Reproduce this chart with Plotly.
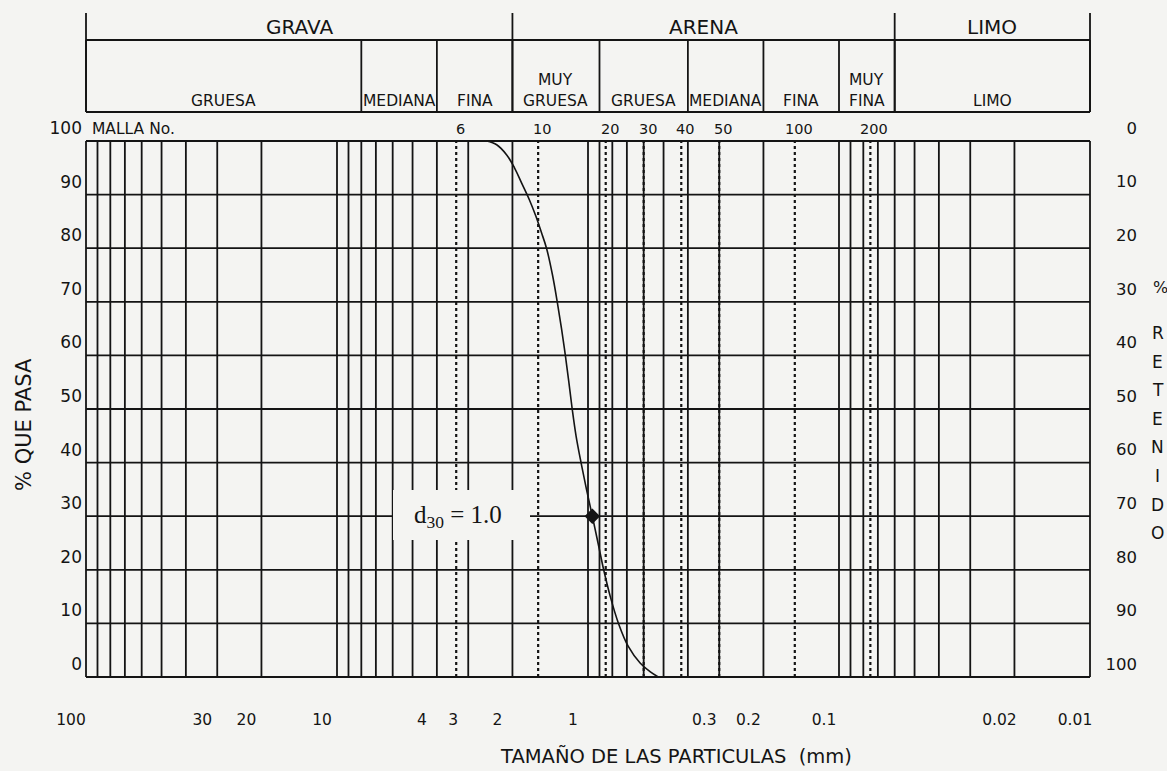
import math
import plotly.graph_objects as go

# ---------------- data ----------------
GRAIN_MM = [2.533, 2.311, 2.108, 1.963, 1.832, 1.711, 1.614, 1.535, 1.463, 1.385, 1.326,
            1.275, 1.231, 1.192, 1.156, 1.116, 1.066, 1.014, 0.961, 0.912, 0.866, 0.815,
            0.756, 0.691, 0.620, 0.566, 0.525]
PASSING = [100, 99.3, 97.4, 95, 92, 89, 86, 83, 80, 75, 70,
           65, 60, 55, 50, 45, 40, 35, 30, 25, 20, 15,
           10, 5.7, 2.6, 1, 0]

D30_MM = 0.961
D30_PCT = 30

SIEVE_NO = ["6", "10", "20", "30", "40", "50", "100", "200"]
SIEVE_MM = [3.35, 1.58, 0.85, 0.60, 0.425, 0.30, 0.15, 0.075]

X_TICK_MM = [100, 30, 20, 10, 4, 3, 2, 1, 0.3, 0.2, 0.1, 0.02, 0.01]
X_TICK_TEXT = ["100", "30", "20", "10", "4", "3", "2", "1", "0.3", "0.2", "0.1", "0.02", "0.01"]

Y_TICKS = [0, 10, 20, 30, 40, 50, 60, 70, 80, 90, 100]
RETAINED_TEXT = [str(100 - v) for v in Y_TICKS]

MAIN_GROUPS = ["GRAVA", "ARENA", "LIMO"]
MAIN_BOUNDS_MM = [100, 2, 0.06, 0.01]

SUB_TOP = ["", "", "", "MUY", "", "", "", "MUY", ""]
SUB_BOTTOM = ["GRUESA", "MEDIANA", "FINA", "GRUESA", "GRUESA", "MEDIANA", "FINA", "FINA", "LIMO"]
SUB_BOUNDS_MM = [100, 8, 4, 2, 0.9, 0.4, 0.2, 0.1, 0.06, 0.01]

# log-grid of the chart paper (axis structure)
GRID_MM = sorted({round(k * 10.0 ** e, 6) for e in (1, 0, -1, -2) for k in range(1, 11)}, reverse=True)

# ---------------- layout helpers (pixel geometry) ----------------
W, H = 1167, 771
ML, MR, MT, MB = 83, 17, 10, 91
PLOT_W = W - ML - MR
PLOT_H = H - MT - MB
PX_DEC = 251.0          # px per decade
X100_PX = 86            # pixel of 100 mm
Y0_PX = 677             # pixel of 0 %
PX_PCT = 5.36           # px per percent
PAD = 3

X_RANGE = [2 + PAD / PX_DEC, -2 - PAD / PX_DEC]
Y_RANGE = [-(H - MB - Y0_PX) / PX_PCT, (Y0_PX - MT) / PX_PCT]
X_DOMAIN_END = (4 * PX_DEC + 2 * PAD) / PLOT_W


def yd(py):
    return (Y0_PX - py) / PX_PCT


def xl(px):
    return 2 - (px - X100_PX) / PX_DEC


def xpaper(px):
    return (px - ML) / PLOT_W


def ypaper(py):
    return (H - MB - py) / PLOT_H


BG = "#f4f4f2"
INK = "#141414"
SANS = "DejaVu Sans"
LW = 1.8

fig = go.Figure()


def add_lines(segments, width=LW, dash=None, color=INK):
    xs, ys = [], []
    for (x0, y0, x1, y1) in segments:
        xs += [x0, x1, None]
        ys += [y0, y1, None]
    fig.add_trace(go.Scatter(x=xs, y=ys, mode="lines", hoverinfo="skip",
                             line=dict(color=color, width=width, dash=dash)))


# vertical grid lines
add_lines([(g, 0, g, 100) for g in GRID_MM])
# sieve lines (dotted)
add_lines([(s, 0, s, 100) for s in SIEVE_MM], width=2.2, dash="3px,3px")
# horizontal grid lines
add_lines([(100, v, 0.01, v) for v in Y_TICKS])

# header table
H_TOP, H_MID, H_BOT = yd(13), yd(40), yd(112)
hdr = [(MAIN_BOUNDS_MM[0], H_MID, MAIN_BOUNDS_MM[-1], H_MID),
       (MAIN_BOUNDS_MM[0], H_BOT, MAIN_BOUNDS_MM[-1], H_BOT)]
hdr += [(b, H_TOP, b, H_BOT) for b in MAIN_BOUNDS_MM]
hdr += [(b, H_MID, b, H_BOT) for b in SUB_BOUNDS_MM]
add_lines(hdr)

# blank box behind the d30 label
bx0, bx1 = 10 ** xl(393), 10 ** xl(530)
by0, by1 = yd(540), yd(490)
fig.add_trace(go.Scatter(x=[bx0, bx1, bx1, bx0, bx0], y=[by0, by0, by1, by1, by0],
                         mode="lines", fill="toself", fillcolor=BG,
                         line=dict(width=0, color=BG), hoverinfo="skip"))

# grading curve
fig.add_trace(go.Scatter(x=GRAIN_MM, y=PASSING, mode="lines",
                         line=dict(color=INK, width=1.6, shape="spline", smoothing=1.0),
                         hoverinfo="skip"))
fig.add_trace(go.Scatter(x=[D30_MM], y=[D30_PCT], mode="markers",
                         marker=dict(symbol="diamond", size=12, color=INK), hoverinfo="skip"))

# dummy trace to carry the right axis
fig.add_trace(go.Scatter(x=[1], y=[0], yaxis="y2", mode="markers",
                         marker=dict(opacity=0), hoverinfo="skip"))

ann = []
# header texts
for i, name in enumerate(MAIN_GROUPS):
    xc = (math.log10(MAIN_BOUNDS_MM[i]) + math.log10(MAIN_BOUNDS_MM[i + 1])) / 2
    ann.append(dict(x=xc, y=yd(27), xref="x", yref="y", text=name, showarrow=False,
                    font=dict(family=SANS, size=20, color=INK)))
for i in range(len(SUB_BOTTOM)):
    xc = (math.log10(SUB_BOUNDS_MM[i]) + math.log10(SUB_BOUNDS_MM[i + 1])) / 2
    ann.append(dict(x=xc, y=yd(101), xref="x", yref="y", text=SUB_BOTTOM[i], showarrow=False,
                    font=dict(family=SANS, size=15.5, color=INK)))
    if SUB_TOP[i]:
        ann.append(dict(x=xc, y=yd(80), xref="x", yref="y", text=SUB_TOP[i], showarrow=False,
                        font=dict(family=SANS, size=15.5, color=INK)))

# sieve row
ann.append(dict(x=xl(90), y=yd(129), xref="x", yref="y", text="MALLA No.", showarrow=False,
                xanchor="left", font=dict(family=SANS, size=15.5, color=INK)))
for lab, s in zip(SIEVE_NO, SIEVE_MM):
    ann.append(dict(x=math.log10(s), y=yd(129), xref="x", yref="y", text=lab, showarrow=False,
                    xshift=4, font=dict(family=SANS, size=14.5, color=INK)))

# d30 label
ann.append(dict(x=xl(458), y=D30_PCT, xref="x", yref="y",
                text="d<sub>30</sub> = 1.0", showarrow=False,
                font=dict(family="Liberation Serif", size=25, color=INK)))

# axis titles
ann.append(dict(x=xpaper(676), y=ypaper(757), xref="paper", yref="paper",
                xanchor="center", yanchor="middle",
                text="TAMAÑO DE LAS PARTICULAS  (mm)", showarrow=False,
                font=dict(family=SANS, size=19.5, color=INK)))
ann.append(dict(x=xpaper(24), y=ypaper(425), xref="paper", yref="paper", textangle=-90,
                xanchor="center", yanchor="middle",
                text="% QUE PASA", showarrow=False,
                font=dict(family=SANS, size=21, color=INK)))
ann.append(dict(x=xpaper(1160), y=ypaper(287), xref="paper", yref="paper",
                xanchor="center", yanchor="middle",
                text="%", showarrow=False, font=dict(family=SANS, size=16, color=INK)))
for i, ch in enumerate("RETENIDO"):
    ann.append(dict(x=xpaper(1158), y=ypaper(333 + i * 28.6), xref="paper", yref="paper",
                    xanchor="center", yanchor="middle",
                    text=ch, showarrow=False, font=dict(family=SANS, size=17, color=INK)))

fig.update_layout(
    width=W, height=H, autosize=False,
    margin=dict(l=ML, r=MR, t=MT, b=MB),
    paper_bgcolor=BG, plot_bgcolor=BG,
    showlegend=False,
    annotations=ann,
    xaxis=dict(type="log", range=X_RANGE, domain=[0, X_DOMAIN_END],
               tickmode="array", tickvals=X_TICK_MM, ticktext=X_TICK_TEXT,
               showgrid=False, zeroline=False, showline=False, ticks="",
               ticklabelstandoff=28, ticklabelshift=15,
               tickfont=dict(family=SANS, size=15.5, color=INK)),
    yaxis=dict(range=Y_RANGE, tickmode="array", tickvals=Y_TICKS,
               showgrid=False, zeroline=False, showline=False, ticks="",
               ticklabelshift=-13, ticklabelstandoff=0,
               tickfont=dict(family=SANS, size=17, color=INK)),
    yaxis2=dict(overlaying="y", anchor="free", side="left",
                position=xpaper(1137), range=Y_RANGE,
                tickmode="array", tickvals=Y_TICKS, ticktext=RETAINED_TEXT,
                showgrid=False, zeroline=False, showline=False, ticks="",
                ticklabelshift=-13, ticklabelstandoff=0,
                tickfont=dict(family=SANS, size=16.5, color=INK)),
)

fig.write_html(
    "out.html",
    config={"responsive": False, "displayModeBar": False},
    post_script=("document.body.style.margin='0';"
                 "document.body.style.overflow='hidden';"
                 "document.body.style.background='" + BG + "';"),
)
